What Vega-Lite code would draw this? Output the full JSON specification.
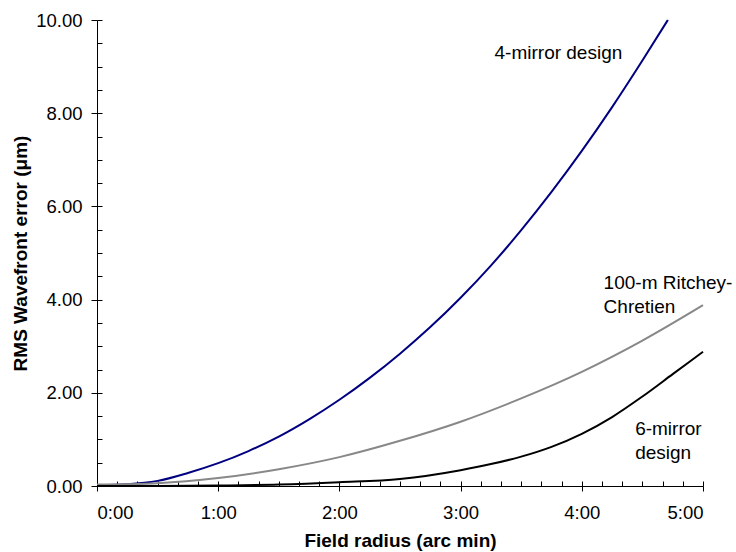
{
"$schema": "https://vega.github.io/schema/vega-lite/v6.json",
"width": 606,
"height": 466,
"autosize": "none",
"padding": {"left": 97, "top": 20, "right": 33, "bottom": 66},
"background": "white",
"config": {
  "view": {"stroke": null},
  "font": "Liberation Sans",
  "axis": {"grid": false, "domainColor": "black", "tickColor": "black", "labelColor": "black", "titleColor": "black", "labelFont": "Liberation Sans", "titleFont": "Liberation Sans", "labelFontSize": 18.5, "titleFontSize": 19, "labelFontWeight": "normal", "titleFontWeight": "bold", "domainWidth": 1, "tickWidth": 1}
},
"datasets": {
  "curves": [
    {"series": "4-mirror", "r": 0, "e": 0.02},
    {"series": "4-mirror", "r": 0.25, "e": 0.04},
    {"series": "4-mirror", "r": 0.5, "e": 0.11},
    {"series": "4-mirror", "r": 0.75, "e": 0.28},
    {"series": "4-mirror", "r": 1.0, "e": 0.49},
    {"series": "4-mirror", "r": 1.25, "e": 0.75},
    {"series": "4-mirror", "r": 1.5, "e": 1.06},
    {"series": "4-mirror", "r": 1.75, "e": 1.43},
    {"series": "4-mirror", "r": 2.0, "e": 1.85},
    {"series": "4-mirror", "r": 2.25, "e": 2.32},
    {"series": "4-mirror", "r": 2.5, "e": 2.84},
    {"series": "4-mirror", "r": 2.75, "e": 3.41},
    {"series": "4-mirror", "r": 3.0, "e": 4.04},
    {"series": "4-mirror", "r": 3.25, "e": 4.73},
    {"series": "4-mirror", "r": 3.5, "e": 5.49},
    {"series": "4-mirror", "r": 3.75, "e": 6.31},
    {"series": "4-mirror", "r": 4.0, "e": 7.19},
    {"series": "4-mirror", "r": 4.25, "e": 8.13},
    {"series": "4-mirror", "r": 4.5, "e": 9.13},
    {"series": "4-mirror", "r": 4.71, "e": 10.0},
    {"series": "RC", "r": 0, "e": 0.03},
    {"series": "RC", "r": 0.5, "e": 0.06},
    {"series": "RC", "r": 1.0, "e": 0.17},
    {"series": "RC", "r": 1.5, "e": 0.36},
    {"series": "RC", "r": 2.0, "e": 0.62},
    {"series": "RC", "r": 2.5, "e": 0.97},
    {"series": "RC", "r": 3.0, "e": 1.38},
    {"series": "RC", "r": 3.5, "e": 1.88},
    {"series": "RC", "r": 4.0, "e": 2.45},
    {"series": "RC", "r": 4.5, "e": 3.12},
    {"series": "RC", "r": 5.0, "e": 3.88},
    {"series": "6-mirror", "r": 0, "e": 0.0},
    {"series": "6-mirror", "r": 0.5, "e": 0.0},
    {"series": "6-mirror", "r": 1.0, "e": 0.01},
    {"series": "6-mirror", "r": 1.5, "e": 0.03},
    {"series": "6-mirror", "r": 2.0, "e": 0.08},
    {"series": "6-mirror", "r": 2.5, "e": 0.15},
    {"series": "6-mirror", "r": 3.0, "e": 0.34},
    {"series": "6-mirror", "r": 3.25, "e": 0.47},
    {"series": "6-mirror", "r": 3.5, "e": 0.63},
    {"series": "6-mirror", "r": 3.75, "e": 0.84},
    {"series": "6-mirror", "r": 4.0, "e": 1.12},
    {"series": "6-mirror", "r": 4.25, "e": 1.48},
    {"series": "6-mirror", "r": 4.5, "e": 1.92},
    {"series": "6-mirror", "r": 4.75, "e": 2.4},
    {"series": "6-mirror", "r": 5.0, "e": 2.88}
  ],
  "labels": [
    {"x": 3.28, "y": 9.29, "t": "4-mirror design"},
    {"x": 4.18, "y": 4.36, "t": "100-m Ritchey-"},
    {"x": 4.18, "y": 3.84, "t": "Chretien"},
    {"x": 4.44, "y": 1.22, "t": "6-mirror"},
    {"x": 4.44, "y": 0.71, "t": "design"}
  ]
},
"layer": [
  {
    "data": {"name": "curves"},
    "mark": {"type": "point", "opacity": 0},
    "encoding": {
      "x": {"field": "r", "type": "quantitative", "scale": {"domain": [0, 5], "nice": false, "zero": false},
            "axis": {"orient": "top", "offset": -466, "values": [0, 0.1667, 0.3333, 0.5, 0.6667, 0.8333, 1, 1.1667, 1.3333, 1.5, 1.6667, 1.8333, 2, 2.1667, 2.3333, 2.5, 2.6667, 2.8333, 3, 3.1667, 3.3333, 3.5, 3.6667, 3.8333, 4, 4.1667, 4.3333, 4.5, 4.6667, 4.8333, 5], "labels": false, "domain": false, "tickSize": 5, "title": null}},
      "y": {"field": "e", "type": "quantitative", "scale": {"domain": [0, 10], "nice": false},
            "axis": {"orient": "right", "offset": -606, "values": [0, 0.5, 1, 1.5, 2, 2.5, 3, 3.5, 4, 4.5, 5, 5.5, 6, 6.5, 7, 7.5, 8, 8.5, 9, 9.5, 10], "labels": false, "domain": false, "tickSize": 5, "title": null}}
    }
  },
  {
    "data": {"name": "curves"},
    "mark": {"type": "line", "strokeWidth": 2, "interpolate": "monotone"},
    "encoding": {
      "x": {"field": "r", "type": "quantitative", "scale": {"domain": [0, 5], "nice": false, "zero": false},
            "axis": {"orient": "bottom", "values": [0, 1, 2, 3, 4, 5], "labelExpr": "floor(datum.value) + ':00'", "tickSize": 5, "labelPadding": 12, "title": "Field radius (arc min)", "titlePadding": 10}},
      "y": {"field": "e", "type": "quantitative", "scale": {"domain": [0, 10], "nice": false},
            "axis": {"orient": "left", "values": [0, 2, 4, 6, 8, 10], "format": ".2f", "tickSize": 6, "labelPadding": 9, "title": "RMS Wavefront error (μm)", "titlePadding": 5}},
      "color": {"field": "series", "type": "nominal", "scale": {"domain": ["4-mirror", "RC", "6-mirror"], "range": ["#000080", "#888888", "#000000"]}, "legend": null}
    }
  },
  {
    "data": {"name": "labels"},
    "mark": {"type": "text", "align": "left", "baseline": "middle", "fontSize": 19, "font": "Liberation Sans", "color": "black"},
    "encoding": {
      "x": {"field": "x", "type": "quantitative", "scale": {"domain": [0, 5], "nice": false, "zero": false}, "axis": null},
      "y": {"field": "y", "type": "quantitative", "scale": {"domain": [0, 10], "nice": false}, "axis": null},
      "text": {"field": "t"}
    }
  }
],
"resolve": {"axis": {"x": "independent", "y": "independent"}}
}
